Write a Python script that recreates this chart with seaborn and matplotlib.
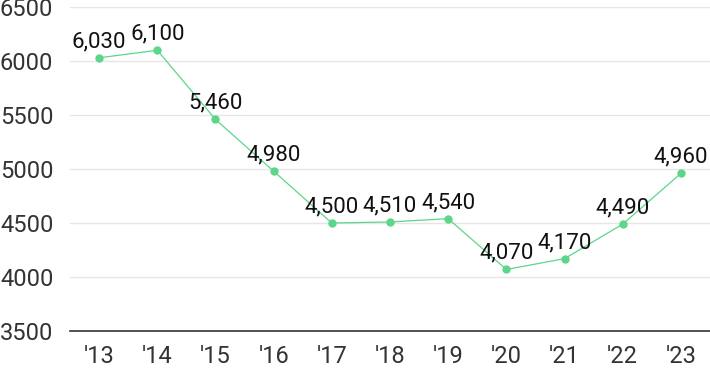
import matplotlib
matplotlib.use("Agg")
import matplotlib.pyplot as plt
import seaborn as sns
import pandas as pd

years = ["'13", "'14", "'15", "'16", "'17", "'18", "'19", "'20", "'21", "'22", "'23"]
values = [6030, 6100, 5460, 4980, 4500, 4510, 4540, 4070, 4170, 4490, 4960]
y_ticks = [3500, 4000, 4500, 5000, 5500, 6000, 6500]

sns.set_style("white")
plt.rcParams['font.family'] = ['Roboto', 'DejaVu Sans']

df = pd.DataFrame({'year': years, 'value': values})

fig = plt.figure(figsize=(7.1, 3.71), dpi=100)
ax = fig.add_axes([0.0986, 0.1078, 0.9014, 0.8732])

green = '#5cd68a'
sns.lineplot(data=df, x='year', y='value', ax=ax, color=green, linewidth=0.9,
             marker='o', markersize=6, markeredgewidth=0, sort=False)

for i, v in enumerate(values):
    ax.annotate(f"{v:,}", (i, v), xytext=(0, 4), textcoords='offset points',
                ha='center', va='bottom', fontsize=16, color='#111111')

ax.set_xlim(-0.5, 10.5)
ax.set_ylim(3500, 6500)
ax.set_yticks(y_ticks)
ax.set_yticklabels([str(t) for t in y_ticks])
ax.grid(axis='y', color='#e6e6e6', linewidth=1)
ax.set_axisbelow(True)
for s in ['left', 'right', 'top']:
    ax.spines[s].set_visible(False)
ax.spines['bottom'].set_color('#333333')
ax.spines['bottom'].set_linewidth(1.2)
ax.tick_params(axis='both', length=0, labelsize=17, colors='#333333')
ax.tick_params(axis='x', pad=10)
ax.tick_params(axis='y', pad=12)
ax.set_xlabel('')
ax.set_ylabel('')

fig.savefig('out.png', dpi=100)
